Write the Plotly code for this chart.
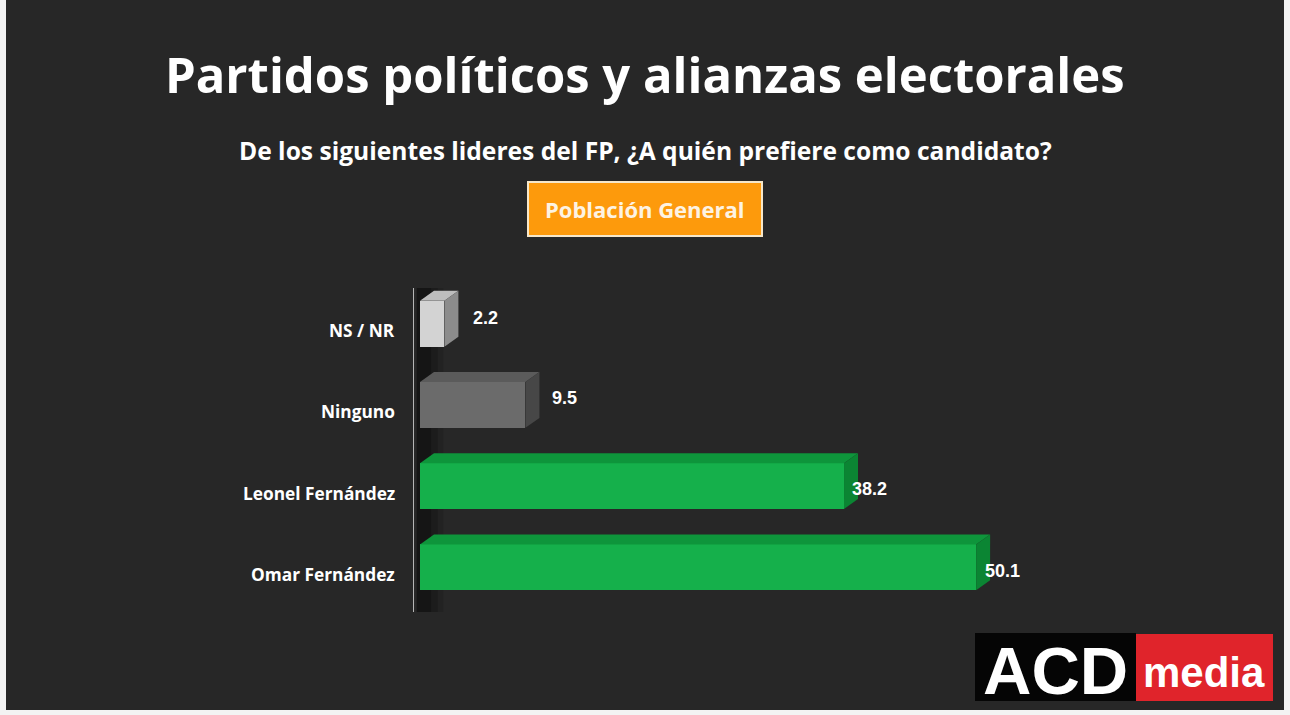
import plotly.graph_objects as go

# data, bottom to top as drawn
categories = ["Omar Fernández", "Leonel Fernández", "Ninguno", "NS / NR"]
values = [50.1, 38.2, 9.5, 2.2]
value_labels = ["50.1", "38.2", "9.5", "2.2"]

title = "Partidos políticos y alianzas electorales"
subtitle = "De los siguientes lideres del FP, ¿A quién prefiere como candidato?"
group_label = "Población General"

# styles
front_colors = ["#15b04b", "#15b04b", "#6b6b6b", "#d3d3d3"]
top_colors = ["#0e953b", "#0e953b", "#5b5b5b", "#bdbdbd"]
side_colors = ["#0b8533", "#0b8533", "#474747", "#8c8c8c"]
label_gap = [7, 6, 25, 27]
label_lift = [-4, -3, 7, 6]
bar_w = 0.565
dx, dy = 1.26, 0.123
font = "Open Sans"
bg = "#272727"
W, H = 1290, 715


def px_x(p):
    return p / W


def px_y(p):
    return 1 - p / H


fig = go.Figure()
ypos = list(range(len(categories)))

fig.add_trace(go.Bar(
    x=values, y=ypos, base=0, orientation="h", width=bar_w,
    marker=dict(color=front_colors, line=dict(width=0)),
    hoverinfo="skip",
))

# 3d faces built from the values
for i, v in enumerate(values):
    yt = ypos[i] + bar_w / 2
    yb = ypos[i] - bar_w / 2
    fig.add_trace(go.Scatter(
        x=[0, v, v + dx, dx, 0], y=[yt, yt, yt + dy, yt + dy, yt],
        fill="toself", fillcolor=top_colors[i], mode="lines",
        line=dict(width=0), hoverinfo="skip",
    ))
    fig.add_trace(go.Scatter(
        x=[v, v + dx, v + dx, v, v], y=[yt, yt + dy, yb + dy, yb, yt],
        fill="toself", fillcolor=side_colors[i], mode="lines",
        line=dict(width=0), hoverinfo="skip",
    ))
    fig.add_annotation(
        x=v, y=ypos[i], text=value_labels[i], showarrow=False,
        xanchor="left", yanchor="middle", xshift=label_gap[i], yshift=label_lift[i],
        font=dict(family="Liberation Sans", size=18, color="white", weight="bold"),
    )
    fig.add_annotation(
        x=0, y=ypos[i], text=categories[i], showarrow=False,
        xanchor="right", yanchor="middle", xshift=-23, yshift=-7,
        font=dict(family=font, size=17.3, color="white", weight="bold"),
    )

# back wall shadow next to the axis
fig.add_shape(type="rect", xref="x", yref="y", x0=-0.3, x1=1.0, y0=-0.55, y1=3.44,
              fillcolor="rgba(0,0,0,0.45)", line_width=0, layer="below")
fig.add_shape(type="rect", xref="x", yref="y", x0=1.0, x1=1.6, y0=-0.55, y1=3.44,
              fillcolor="rgba(0,0,0,0.28)", line_width=0, layer="below")
fig.add_shape(type="rect", xref="x", yref="y", x0=1.6, x1=2.1, y0=-0.55, y1=3.44,
              fillcolor="rgba(0,0,0,0.12)", line_width=0, layer="below")
# axis line
fig.add_shape(type="line", xref="x", yref="y", x0=-0.63, x1=-0.63, y0=-0.55, y1=3.44,
              line=dict(color="#b5b5b5", width=2))

# dark panel with thin light frame
fig.add_shape(type="rect", xref="paper", yref="paper", x0=px_x(6), x1=px_x(1284),
              y0=px_y(710), y1=1, fillcolor=bg, line_width=0, layer="below")

fig.add_annotation(
    xref="paper", yref="paper", x=px_x(645), y=px_y(74), text=title, showarrow=False,
    xanchor="center", yanchor="middle",
    font=dict(family=font, size=49, color="white", weight="bold"),
)
fig.add_annotation(
    xref="paper", yref="paper", x=px_x(645), y=px_y(150), text=subtitle, showarrow=False,
    xanchor="center", yanchor="middle",
    font=dict(family=font, size=24.6, color="white", weight="bold"),
)
fig.add_shape(type="rect", xref="paper", yref="paper", x0=px_x(528), x1=px_x(762),
              y0=px_y(236), y1=px_y(182), fillcolor="#fd9a0c",
              line=dict(color="#f6e7c9", width=2))
fig.add_annotation(
    xref="paper", yref="paper", x=px_x(645), y=px_y(209), text=group_label,
    showarrow=False, xanchor="center", yanchor="middle",
    font=dict(family=font, size=22, color="#fdf3e3", weight="bold"),
)

# logo
fig.add_shape(type="rect", xref="paper", yref="paper", x0=px_x(975), x1=px_x(1136),
              y0=px_y(701), y1=px_y(633), fillcolor="#050505", line_width=0)
fig.add_shape(type="rect", xref="paper", yref="paper", x0=px_x(1136), x1=px_x(1273),
              y0=px_y(701), y1=px_y(634), fillcolor="#e0242b", line_width=0)
fig.add_annotation(
    xref="paper", yref="paper", x=px_x(1055), y=px_y(670), text="ACD",
    showarrow=False, xanchor="center", yanchor="middle",
    font=dict(family="Liberation Sans", size=67, color="white", weight="bold"),
)
fig.add_annotation(
    xref="paper", yref="paper", x=px_x(1204), y=px_y(672), text="media",
    showarrow=False, xanchor="center", yanchor="middle",
    font=dict(family="Liberation Sans", size=42, color="white", weight="bold"),
)

fig.update_layout(
    width=W, height=H,
    margin=dict(l=0, r=0, t=0, b=0),
    paper_bgcolor="#f3f3f3", plot_bgcolor="rgba(0,0,0,0)",
    showlegend=False, bargap=0,
    xaxis=dict(domain=[px_x(413), px_x(1200)], range=[-0.63, 70.27],
               visible=False, fixedrange=True),
    yaxis=dict(domain=[px_y(612), px_y(288)], range=[-0.55, 3.44],
               visible=False, fixedrange=True),
)

fig.write_html(
    "out.html",
    config={"displayModeBar": False},
    post_script="document.body.style.margin='0';",
)
